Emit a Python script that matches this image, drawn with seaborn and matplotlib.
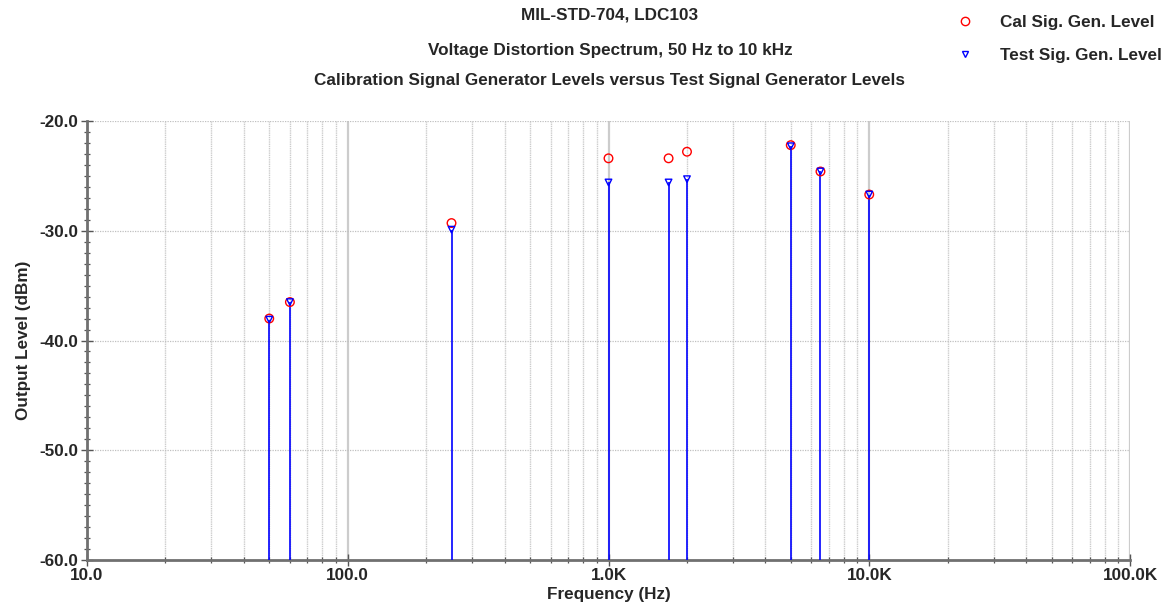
import matplotlib
matplotlib.use("Agg")
import matplotlib.pyplot as plt
import seaborn as sns
import numpy as np
import pandas as pd
from matplotlib.ticker import FixedLocator, FuncFormatter, LogLocator, MultipleLocator
from matplotlib.lines import Line2D

freqs = [50, 60, 250, 1000, 1700, 2000, 5000, 6500, 10000]
cal_levels = [-38.0, -36.5, -29.3, -23.4, -23.4, -22.8, -22.2, -24.6, -26.7]
test_levels = [-38.1, -36.5, -29.9, -25.6, -25.6, -25.3, -22.3, -24.6, -26.7]

titles = ["MIL-STD-704, LDC103",
          "Voltage Distortion Spectrum, 50 Hz to 10 kHz",
          "Calibration Signal Generator Levels versus Test Signal Generator Levels"]

sns.set_style("white")
plt.rcParams['font.family'] = ['Liberation Sans', 'DejaVu Sans']
plt.rcParams['font.weight'] = 'bold'
plt.rcParams['xtick.bottom'] = True
plt.rcParams['ytick.left'] = True

FS = 12.3

df = pd.DataFrame({"freq": freqs, "cal": cal_levels, "test": test_levels})

fig = plt.figure(figsize=(11.71, 6.16), dpi=100)
ax = fig.add_axes([87/1171, 1-560/616, (1130-87)/1171, (560-121)/616])

ax.set_xscale("log")
ax.set_xlim(10, 100000)
ax.set_ylim(-60, -20)

# grid
ax.grid(which="major", axis="x", color="#cccccc", lw=1.6, ls="-")
ax.grid(which="minor", axis="x", color="#cccccc", lw=1.0, ls=(0, (1, 0.6)))
ax.grid(which="major", axis="y", color="#c0c0c0", lw=0.9, ls=(0, (1, 1)))

ax.vlines(df["freq"], -60, df["test"], color="#0000ff", lw=1.2, zorder=3)
sns.scatterplot(data=df, x="freq", y="cal", ax=ax, marker="o", s=38,
                facecolor="none", edgecolor="#ff0000", linewidth=1.0, zorder=4)
sns.scatterplot(data=df, x="freq", y="test", ax=ax, marker="v", s=22,
                facecolor="none", edgecolor="#0000ff", linewidth=1.0, zorder=5)

ax.set_xlabel("Frequency (Hz)", fontsize=FS, fontweight="bold", labelpad=3)
ax.set_ylabel("Output Level (dBm)", fontsize=FS, fontweight="bold", labelpad=6)

def xfmt(v, pos):
    if v >= 1000:
        return f"{v/1000:.1f}K"
    return f"{v:.1f}"

ax.xaxis.set_major_locator(FixedLocator([10, 100, 1000, 10000, 100000]))
ax.xaxis.set_major_formatter(FuncFormatter(xfmt))
ax.xaxis.set_minor_locator(LogLocator(base=10, subs=np.arange(2, 10)))
ax.xaxis.set_minor_formatter(FuncFormatter(lambda v, p: ""))
ax.yaxis.set_major_locator(MultipleLocator(10))
ax.yaxis.set_minor_locator(MultipleLocator(1))
ax.yaxis.set_major_formatter(FuncFormatter(lambda v, p: f"{v:.1f}"))

for lab in ax.get_xticklabels() + ax.get_yticklabels():
    lab.set_fontweight("bold")
ax.tick_params(axis="both", which="major", labelsize=FS, direction="inout",
               length=8, width=1, color="#555555", pad=2)
ax.tick_params(axis="both", which="minor", direction="inout", length=5,
               width=0.9, color="#555555")

for s in ["top", "right"]:
    ax.spines[s].set_visible(False)
for s in ["left", "bottom"]:
    ax.spines[s].set_color("#707070")
    ax.spines[s].set_linewidth(2)

fig.text(610/1171, 1-15/616, titles[0], ha="center", va="center", fontsize=FS, fontweight="bold")
fig.text(610/1171, 1-50/616, titles[1], ha="center", va="center", fontsize=FS, fontweight="bold")
fig.text(610/1171, 1-81/616, titles[2], ha="center", va="center", fontsize=FS, fontweight="bold")

handles = [Line2D([], [], marker="o", ls="none", markerfacecolor="none",
                  markeredgecolor="#ff0000", markersize=6, markeredgewidth=1.0),
           Line2D([], [], marker="v", ls="none", markerfacecolor="none",
                  markeredgecolor="#0000ff", markersize=4.5, markeredgewidth=1.0)]
leg = fig.legend(handles, ["Cal Sig. Gen. Level", "Test Sig. Gen. Level"],
                 loc="upper left", bbox_to_anchor=(939/1171, 1-0/616),
                 frameon=False, prop={"weight": "bold", "size": FS},
                 labelspacing=1.05, handletextpad=1.5, handlelength=1.2)

fig.savefig("out.png", dpi=100)
